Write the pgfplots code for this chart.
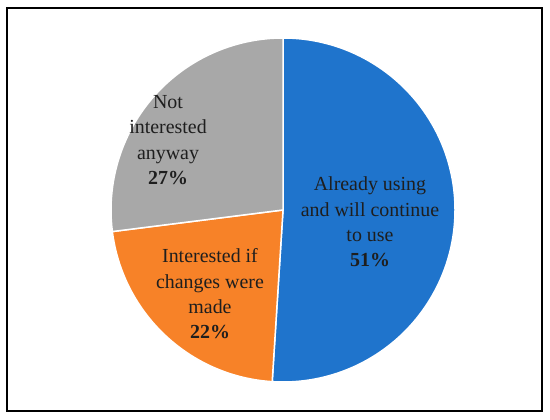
\documentclass[border=0pt]{standalone}
\usepackage{fontspec}
\setmainfont{Liberation Serif}
\usepackage{pgfplots}
\pgfplotsset{compat=1.18}
\definecolor{pieblue}{RGB}{31,116,204}
\definecolor{pieorange}{RGB}{247,130,40}
\definecolor{piegrey}{RGB}{168,168,168}
\definecolor{labeltext}{RGB}{30,30,30}
% shares in percent, clockwise from the top
\def\shareUse{51}
\def\shareChg{22}
\def\shareNot{27}
\pgfmathsetmacro{\angA}{90}
\pgfmathsetmacro{\angB}{\angA-3.6*\shareUse}
\pgfmathsetmacro{\angC}{\angB-3.6*\shareChg}
\pgfmathsetmacro{\angD}{\angC-3.6*\shareNot}
\tikzset{slice/.style={draw=white, line width=1.5bp},
    lbl/.style={align=center, text=labeltext, font=\fontsize{20}{25.5}\selectfont}}
\begin{document}
\begin{tikzpicture}
\begin{axis}[
    width=550bp, height=419bp,
    scale only axis,
    xmin=0, xmax=550, ymin=0, ymax=419,
    axis lines=none,
    clip=false,
]
\path (axis cs:0,0) rectangle (axis cs:550,419);
% border
\draw[black, line width=2bp] (axis cs:7,8) rectangle (axis cs:542,411);
\fill[pieblue, slice] (axis cs:283,209) -- ++(\angA:172bp)
    arc[start angle=\angA, end angle=\angB, radius=172bp] -- cycle;
\fill[pieorange, slice] (axis cs:283,209) -- ++(\angB:172bp)
    arc[start angle=\angB, end angle=\angC, radius=172bp] -- cycle;
\fill[piegrey, slice] (axis cs:283,209) -- ++(\angC:172bp)
    arc[start angle=\angC, end angle=\angD, radius=172bp] -- cycle;
\node[lbl] at (axis cs:370,197) {Already using\\and will continue\\to use\\\textbf{\shareUse\%}};
\node[lbl] at (axis cs:210,125) {Interested if\\changes were\\made\\\textbf{\shareChg\%}};
\node[lbl] at (axis cs:168,279) {Not\\interested\\anyway\\\textbf{\shareNot\%}};
\end{axis}
\end{tikzpicture}
\end{document}
